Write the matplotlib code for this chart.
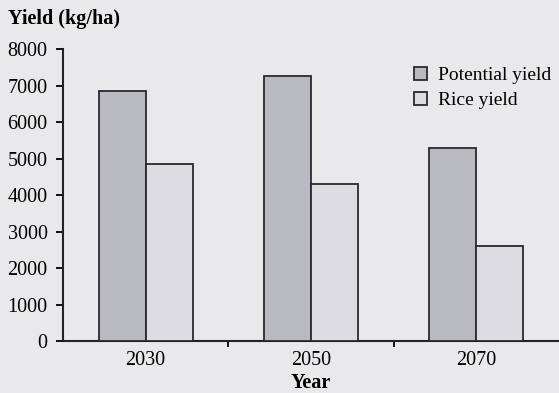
import matplotlib
matplotlib.use('Agg')

import matplotlib.pyplot as plt
import numpy as np

years = ["2030", "2050", "2070"]
potential_yield = [6850, 7250, 5280]
rice_yield = [4850, 4300, 2600]
yticks = [0, 1000, 2000, 3000, 4000, 5000, 6000, 7000, 8000]

bg = '#e9e9ec'
plt.rcParams['font.family'] = ['Liberation Serif', 'DejaVu Serif']
fs = 14.5

fig = plt.figure(figsize=(5.59, 3.93), dpi=100)
fig.patch.set_facecolor(bg)
ax = fig.add_axes([0.1127, 0.1323, 0.8873, 0.743])
ax.set_facecolor(bg)

x = np.arange(len(years))
width = 0.285

ax.bar(x - width / 2, potential_yield, width,
       color='#b9b9c1', edgecolor='#2a2a2e', linewidth=1.3,
       label='Potential yield', zorder=3)
ax.bar(x + width / 2, rice_yield, width,
       color='#dcdce1', edgecolor='#2a2a2e', linewidth=1.3,
       label='Rice yield', zorder=3)

ax.set_xlim(-0.5, 2.5)
ax.set_ylim(0, 8000)
ax.set_yticks(yticks)
ax.set_yticklabels([str(v) for v in yticks], fontsize=fs)

ax.set_xticks(x)
ax.set_xticklabels(years, fontsize=fs)
ax.set_xticks([0.5, 1.5], minor=True)
ax.tick_params(axis='x', which='major', length=0, pad=7)
ax.tick_params(axis='x', which='minor', length=4, width=1.3, direction='out')
ax.tick_params(axis='y', length=5, width=1.3, direction='out', pad=6)

for s in ['top', 'right']:
    ax.spines[s].set_visible(False)
for s in ['left', 'bottom']:
    ax.spines[s].set_linewidth(1.5)
    ax.spines[s].set_color('#222226')

fig.text(0.014, 0.952, "Yield (kg/ha)", fontsize=fs, fontweight='bold',
         ha='left', va='center')
ax.set_xlabel("Year", fontsize=fs, fontweight='bold', labelpad=2)

ax.legend(loc='upper left', bbox_to_anchor=(396 / 559, 1 - 49 / 393),
          bbox_transform=fig.transFigure, frameon=False,
          fontsize=14, handlelength=0.7, handleheight=0.7,
          handletextpad=0.55, labelspacing=0.38)

plt.savefig('out.png', dpi=100, facecolor=bg)
plt.close()
